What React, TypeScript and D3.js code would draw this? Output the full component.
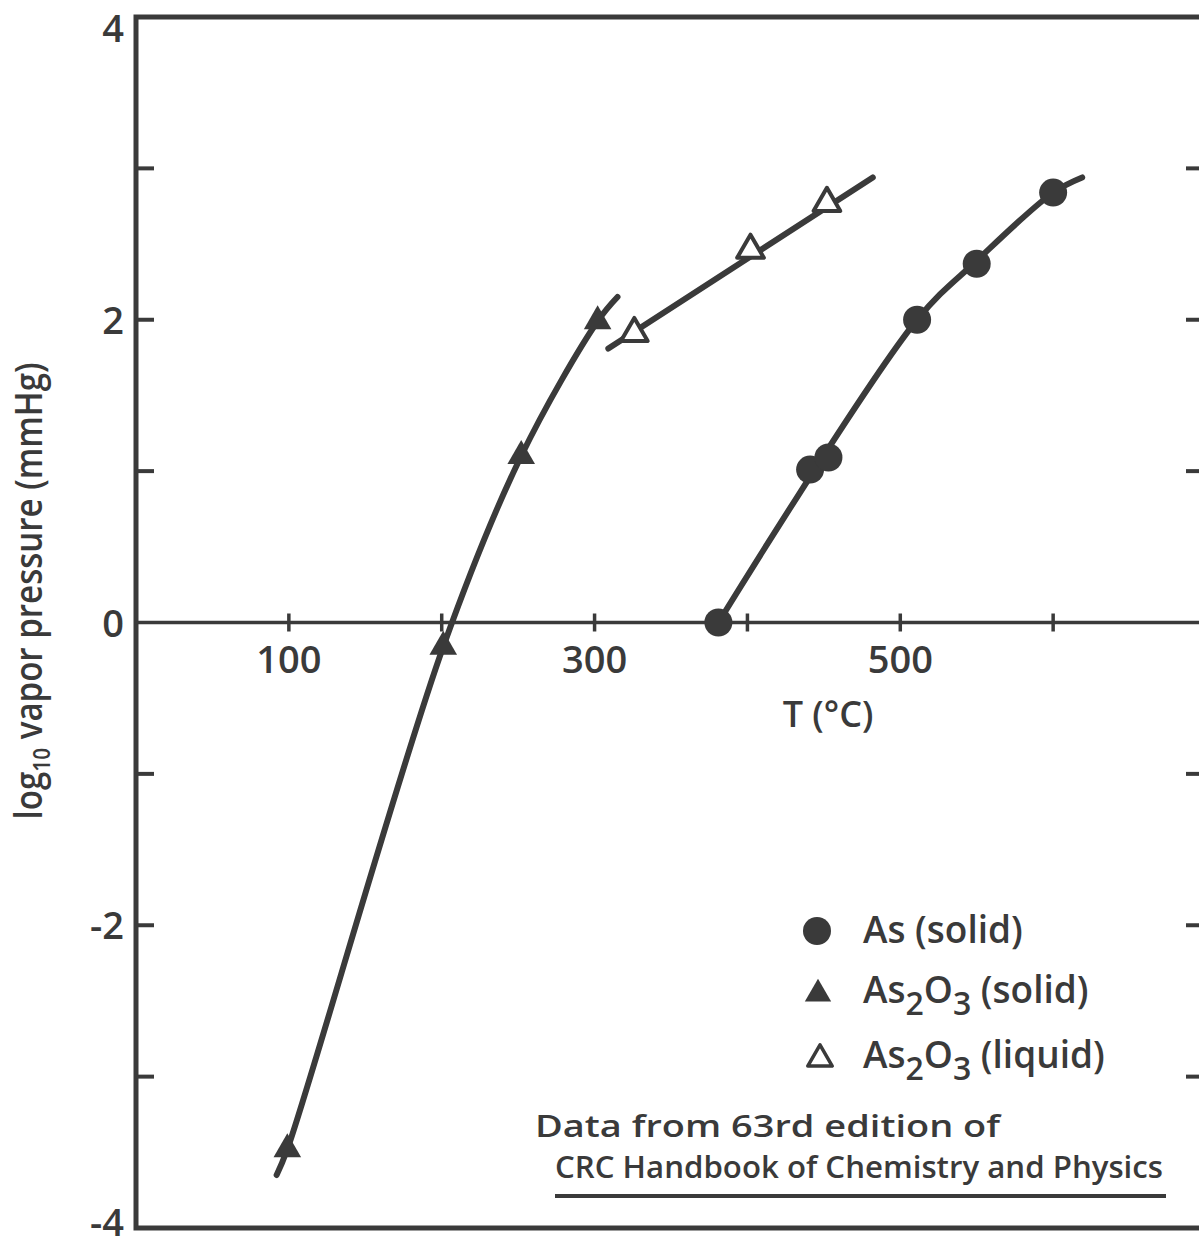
import { useEffect, useRef } from "react";
import * as d3 from "d3";

const W = 1199;
const H = 1241;
const INK = "#3a3a3a";
const FONT = "'Open Sans', 'DejaVu Sans', sans-serif";

// As (solid) - filled circles
const asSolidT = [381, 441, 453, 511, 550, 600];
const asSolidP = [0, 1.01, 1.09, 2.0, 2.37, 2.84];
const asSolidFit: [number, number][] = [[381, 0], [511, 2.0], [550, 2.39], [600, 2.84], [619, 2.94]];

// As2O3 (solid) - filled triangles
const oxSolidT = [99, 201, 252, 302];
const oxSolidP = [-3.48, -0.16, 1.1, 1.99];
const oxSolidFit: [number, number][] = [[92, -3.65], [99, -3.48], [201, -0.16], [252, 1.1], [302, 1.99], [315, 2.15]];

// As2O3 (liquid) - open triangles
const oxLiquidT = [326, 402, 452];
const oxLiquidP = [1.91, 2.46, 2.77];
const oxLiquidFit: [number, number][] = [[309, 1.81], [482, 2.94]];

const yLabels = [4, 2, 0, -2, -4];
const yTicks = [3, 2, 1, -1, -2, -3];
const xTicks = [100, 200, 300, 400, 500, 600];
const xLabels = [100, 300, 500];

const App = () => {
  const svgRef = useRef<SVGSVGElement>(null);

  useEffect(() => {
    const svg = d3.select(svgRef.current);
    svg.selectAll("*").remove();

    const x = d3.scaleLinear().domain([0, 700]).range([136, 1206]);
    const y = d3.scaleLinear().domain([-4, 4]).range([1228, 17]);

    svg.append("rect").attr("width", W).attr("height", H).attr("fill", "#fff");

    const g = svg.append("g");

    // frame
    g.append("rect")
      .attr("x", x(0))
      .attr("y", y(4))
      .attr("width", x(700) - x(0))
      .attr("height", y(-4) - y(4))
      .attr("fill", "none")
      .attr("stroke", INK)
      .attr("stroke-width", 5);

    // y ticks, left and right, pointing inward
    yTicks.forEach((v) => {
      g.append("line")
        .attr("x1", x(0)).attr("x2", x(0) + 18)
        .attr("y1", y(v)).attr("y2", y(v))
        .attr("stroke", INK).attr("stroke-width", 4);
      g.append("line")
        .attr("x1", x(700) - 20).attr("x2", x(700))
        .attr("y1", y(v)).attr("y2", y(v))
        .attr("stroke", INK).attr("stroke-width", 4);
    });

    yLabels.forEach((v) => {
      g.append("text")
        .attr("x", 124)
        .attr("y", v === 4 ? 42 : v === -4 ? 1236 : y(v) + 14)
        .attr("text-anchor", "end")
        .attr("font-family", FONT)
        .attr("font-weight", 600)
        .attr("font-size", 38)
        .attr("fill", INK)
        .text(v < 0 ? `-${-v}` : `${v}`);
    });

    // x axis along log P = 0
    g.append("line")
      .attr("x1", x(0)).attr("x2", x(700))
      .attr("y1", y(0)).attr("y2", y(0))
      .attr("stroke", INK).attr("stroke-width", 3.5);

    xTicks.forEach((t) => {
      g.append("line")
        .attr("x1", x(t)).attr("x2", x(t))
        .attr("y1", y(0) - 9).attr("y2", y(0) + 9)
        .attr("stroke", INK).attr("stroke-width", 3.5);
    });

    xLabels.forEach((t) => {
      g.append("text")
        .attr("x", x(t))
        .attr("y", 673)
        .attr("text-anchor", "middle")
        .attr("font-family", FONT)
        .attr("font-weight", 600)
        .attr("font-size", 38)
        .attr("fill", INK)
        .text(t);
    });

    g.append("text")
      .attr("x", 828)
      .attr("y", 727)
      .attr("text-anchor", "middle")
      .attr("font-family", FONT)
      .attr("font-weight", 600)
      .attr("font-size", 36)
      .attr("fill", INK)
      .text("T (°C)");

    // y axis title
    const yt = g.append("text")
      .attr("transform", "translate(42,591) rotate(-90)")
      .attr("text-anchor", "middle")
      .attr("font-family", FONT)
      .attr("font-weight", 600)
      .attr("font-size", 38)
      .attr("fill", INK)
      .attr("textLength", 457)
      .attr("lengthAdjust", "spacingAndGlyphs");
    yt.append("tspan").text("log");
    yt.append("tspan").attr("dy", 8).attr("font-size", 24).text("10");
    yt.append("tspan").attr("dy", -8).text(" vapor pressure (mmHg)");

    // fitted curves
    const line = d3.line<[number, number]>()
      .x((d) => x(d[0]))
      .y((d) => y(d[1]))
      .curve(d3.curveCatmullRom.alpha(0.5));

    [asSolidFit, oxSolidFit, oxLiquidFit].forEach((pts) => {
      g.append("path")
        .attr("d", line(pts))
        .attr("fill", "none")
        .attr("stroke", INK)
        .attr("stroke-width", 6)
        .attr("stroke-linecap", "round")
        .attr("stroke-linejoin", "round");
    });

    // markers
    asSolidT.forEach((t, i) => {
      g.append("circle")
        .attr("cx", x(t)).attr("cy", y(asSolidP[i]))
        .attr("r", 14)
        .attr("fill", INK);
    });

    const tri = d3.symbol().type(d3.symbolTriangle);
    oxSolidT.forEach((t, i) => {
      g.append("path")
        .attr("d", tri.size(330)())
        .attr("transform", `translate(${x(t)},${y(oxSolidP[i])})`)
        .attr("fill", INK);
    });

    oxLiquidT.forEach((t, i) => {
      g.append("path")
        .attr("d", tri.size(310)())
        .attr("transform", `translate(${x(t)},${y(oxLiquidP[i])})`)
        .attr("fill", "#fff")
        .attr("stroke", INK)
        .attr("stroke-width", 4)
        .attr("stroke-linejoin", "round");
    });

    // legend
    const legendText = (ty: number) =>
      g.append("text")
        .attr("x", 863)
        .attr("y", ty)
        .attr("font-family", FONT)
        .attr("font-weight", 600)
        .attr("font-size", 37)
        .attr("fill", INK);

    g.append("circle").attr("cx", 817).attr("cy", 931).attr("r", 14).attr("fill", INK);
    legendText(943).text("As (solid)");

    g.append("path")
      .attr("d", tri.size(300)())
      .attr("transform", "translate(818,994)")
      .attr("fill", INK);
    const l2 = legendText(1003);
    l2.append("tspan").text("As");
    l2.append("tspan").attr("dy", 12).attr("font-size", 32).text("2");
    l2.append("tspan").attr("dy", -12).text("O");
    l2.append("tspan").attr("dy", 12).attr("font-size", 32).text("3");
    l2.append("tspan").attr("dy", -12).text(" (solid)");

    g.append("path")
      .attr("d", tri.size(260)())
      .attr("transform", "translate(820,1059)")
      .attr("fill", "#fff")
      .attr("stroke", INK)
      .attr("stroke-width", 3.5)
      .attr("stroke-linejoin", "round");
    const l3 = legendText(1068);
    l3.append("tspan").text("As");
    l3.append("tspan").attr("dy", 12).attr("font-size", 32).text("2");
    l3.append("tspan").attr("dy", -12).text("O");
    l3.append("tspan").attr("dy", 12).attr("font-size", 32).text("3");
    l3.append("tspan").attr("dy", -12).text(" (liquid)");

    // source note
    g.append("text")
      .attr("x", 535).attr("y", 1137)
      .attr("font-family", FONT).attr("font-weight", 600)
      .attr("font-size", 30).attr("fill", INK)
      .attr("textLength", 465).attr("lengthAdjust", "spacingAndGlyphs")
      .text("Data from 63rd edition of");
    g.append("text")
      .attr("x", 555).attr("y", 1178)
      .attr("font-family", FONT).attr("font-weight", 600)
      .attr("font-size", 30).attr("fill", INK)
      .attr("textLength", 608).attr("lengthAdjust", "spacingAndGlyphs")
      .text("CRC Handbook of Chemistry and Physics");
    g.append("line")
      .attr("x1", 555).attr("x2", 1166)
      .attr("y1", 1196).attr("y2", 1196)
      .attr("stroke", INK).attr("stroke-width", 4);
  }, []);

  return (
    <svg
      ref={svgRef}
      width={W}
      height={H}
      style={{ position: "absolute", left: 0, top: 0, display: "block" }}
    />
  );
};

export default App;
